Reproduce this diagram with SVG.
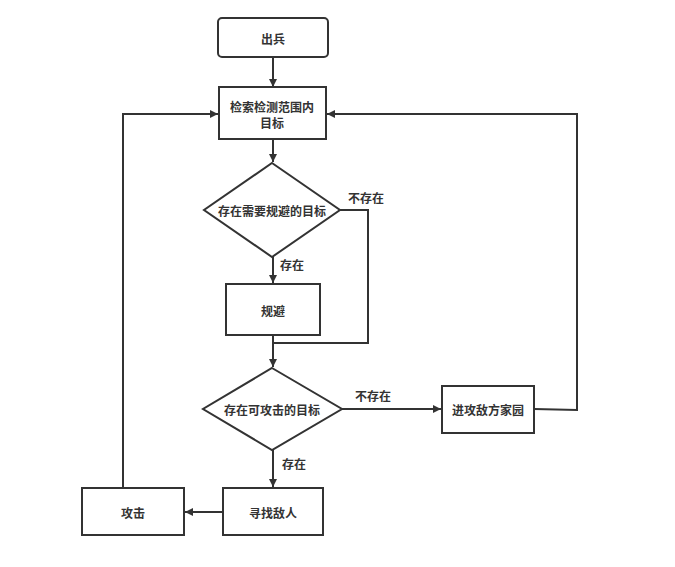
<svg xmlns="http://www.w3.org/2000/svg" width="675" height="567" viewBox="0 0 675 567">
<defs>
<marker id="ah" markerWidth="10" markerHeight="10" refX="9" refY="5" orient="auto" markerUnits="userSpaceOnUse">
<path d="M1,1 L9,5 L1,9 Z" fill="#333"/>
</marker>
<style>
.n{fill:#fff;stroke:#333;stroke-width:2}
.t{font-family:"Noto Sans CJK SC","Liberation Sans",sans-serif;font-size:12px;font-weight:bold;fill:#333;text-anchor:middle;dominant-baseline:central}
.l{font-family:"Noto Sans CJK SC","Liberation Sans",sans-serif;font-size:12px;font-weight:bold;fill:#333}
.c{fill:none;stroke:#333;stroke-width:2}
</style>
</defs>
<rect width="675" height="567" fill="#fff"/>
<g id="connectors">
<path class="c" d="M273,57 V87" marker-end="url(#ah)"/>
<path class="c" d="M273,139 V162" marker-end="url(#ah)"/>
<path class="c" d="M273,257 V283" marker-end="url(#ah)"/>
<path class="c" d="M340,210 H368 V343 H273"/>
<path class="c" d="M273,335 V367" marker-end="url(#ah)"/>
<path class="c" d="M342,409 H441" marker-end="url(#ah)"/>
<path class="c" d="M534,409 L577,410 V114 H327" marker-end="url(#ah)"/>
<path class="c" d="M273,450 V487" marker-end="url(#ah)"/>
<path class="c" d="M223,512 H185" marker-end="url(#ah)"/>
<path class="c" d="M123,488 V114 H218" marker-end="url(#ah)"/>
<text class="l" x="348" y="203">不存在</text>
<text class="l" x="280" y="270">存在</text>
<text class="l" x="355" y="401">不存在</text>
<text class="l" x="282" y="469">存在</text>
</g>
<g id="start">
<rect class="n" x="218" y="18" width="110" height="39" rx="4"/>
<text class="t" x="273" y="38">出兵</text>
</g>
<g id="search">
<rect class="n" x="219" y="87" width="107" height="52"/>
<text class="t" x="272" y="106">检索检测范围内</text>
<text class="t" x="272" y="122">目标</text>
</g>
<g id="decision1">
<polygon class="n" points="272,163 340,210 272,257 204,210"/>
<text class="t" x="272" y="210">存在需要规避的目标</text>
</g>
<g id="avoid">
<rect class="n" x="226" y="284" width="94" height="51"/>
<text class="t" x="273" y="310">规避</text>
</g>
<g id="decision2">
<polygon class="n" points="272,368 342,409 272,450 203,409"/>
<text class="t" x="272" y="409">存在可攻击的目标</text>
</g>
<g id="invade">
<rect class="n" x="442" y="386" width="92" height="47"/>
<text class="t" x="488" y="409">进攻敌方家园</text>
</g>
<g id="find">
<rect class="n" x="223" y="488" width="100" height="47"/>
<text class="t" x="273" y="512">寻找敌人</text>
</g>
<g id="attack">
<rect class="n" x="82" y="488" width="102" height="47"/>
<text class="t" x="133" y="512">攻击</text>
</g>
</svg>
